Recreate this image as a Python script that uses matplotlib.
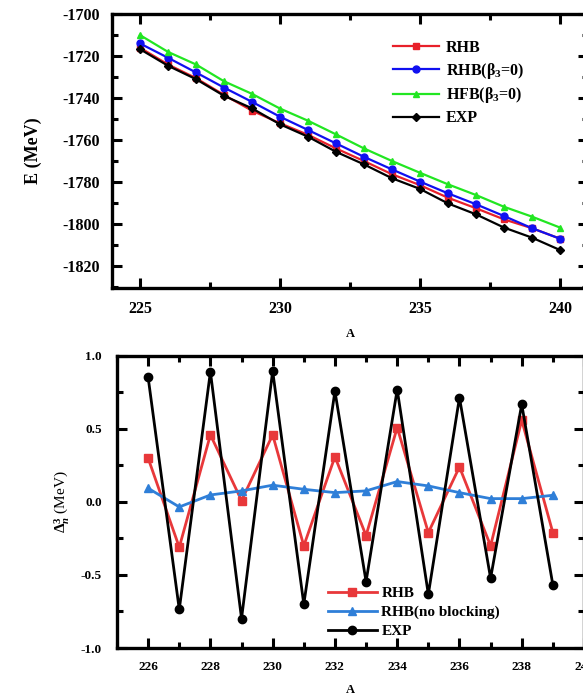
import matplotlib
matplotlib.use("Agg")
import matplotlib.pyplot as plt
from matplotlib.ticker import MultipleLocator

plt.rcParams["font.family"] = "Liberation Serif"
plt.rcParams["font.weight"] = "bold"
plt.rcParams["axes.unicode_minus"] = False
plt.rcParams["mathtext.fontset"] = "custom"
plt.rcParams["mathtext.rm"] = "Liberation Serif"
plt.rcParams["mathtext.bf"] = "Liberation Serif:bold"
plt.rcParams["mathtext.it"] = "Liberation Serif:italic"

# --- top panel: binding energies ---
A_top = [225, 226, 227, 228, 229, 230, 231, 232, 233, 234, 235, 236, 237, 238, 239, 240]
E_rhb = [-1716.0, -1724.0, -1730.5, -1738.5, -1746.0, -1752.0, -1757.5, -1764.0,
         -1770.0, -1776.3, -1781.5, -1787.5, -1792.5, -1797.8, -1802.0, -1807.0]
E_rhb_b0 = [-1714.0, -1720.8, -1727.8, -1735.0, -1741.8, -1748.9, -1755.2, -1761.6,
            -1768.0, -1774.0, -1779.8, -1785.4, -1790.6, -1796.2, -1802.0, -1807.0]
E_hfb_b0 = [-1710.0, -1718.0, -1724.0, -1732.0, -1738.0, -1745.0, -1750.8, -1757.3,
            -1764.0, -1770.0, -1775.6, -1781.1, -1786.2, -1791.8, -1796.5, -1801.7]
E_exp = [-1716.7, -1724.6, -1731.0, -1738.9, -1744.9, -1752.5, -1758.4, -1765.6,
         -1771.6, -1778.2, -1783.3, -1790.2, -1795.4, -1801.7, -1806.5, -1812.4]

# --- bottom panel: three-point odd-even staggering ---
A_bot = [226, 227, 228, 229, 230, 231, 232, 233, 234, 235, 236, 237, 238, 239]
D_rhb = [0.30, -0.31, 0.46, 0.01, 0.46, -0.30, 0.31, -0.23, 0.51, -0.21, 0.24, -0.30, 0.56, -0.21]
D_noblock = [0.094, -0.034, 0.048, 0.076, 0.115, 0.087, 0.064, 0.076, 0.14, 0.11, 0.064, 0.023, 0.023, 0.046]
D_exp = [0.853, -0.736, 0.892, -0.798, 0.897, -0.70, 0.759, -0.545, 0.770, -0.632, 0.715, -0.522, 0.669, -0.568]


def style_axes(ax, labelsize, xpad, ypad):
    for sp in ax.spines.values():
        sp.set_linewidth(2.4)
    ax.tick_params(which="both", direction="in", top=True, right=True,
                   width=2.2, labelsize=labelsize)
    ax.tick_params(which="major", length=7)
    ax.tick_params(which="minor", length=4.5)
    ax.tick_params(axis="x", which="major", pad=xpad)
    ax.tick_params(axis="y", which="major", pad=ypad)


fig = plt.figure(figsize=(5.83, 6.97), dpi=100)

ax1 = fig.add_axes([0.192, 0.5868, 0.8165, 0.393])
ax1.plot(A_top, E_rhb, "-s", color="#e8202a", lw=1.6, ms=4.5, label="RHB")
ax1.plot(A_top, E_rhb_b0, "-o", color="#1010f0", lw=1.6, ms=5, label=r"RHB($\mathbf{\beta}_\mathbf{3}$=0)")
ax1.plot(A_top, E_hfb_b0, "-^", color="#22e622", lw=1.6, ms=5, label=r"HFB($\mathbf{\beta}_\mathbf{3}$=0)")
ax1.plot(A_top, E_exp, "-D", color="black", lw=1.6, ms=4, label="EXP")
ax1.set_xlim(224, 241)
ax1.set_ylim(-1830.5, -1700)
ax1.xaxis.set_major_locator(MultipleLocator(5))
ax1.xaxis.set_minor_locator(MultipleLocator(2.5))
ax1.yaxis.set_major_locator(MultipleLocator(20))
ax1.yaxis.set_minor_locator(MultipleLocator(10))
style_axes(ax1, 11.5, 9, 9)
ax1.set_ylabel("E (MeV)", fontsize=13, fontweight="bold", labelpad=14)
ax1.set_xlabel("A", fontsize=9, fontweight="bold", labelpad=8)
ax1.legend(loc="upper left", bbox_to_anchor=(0.674, 0.943), bbox_transform=fig.transFigure,
           frameon=False, handlelength=2.9, handletextpad=0.4,
           labelspacing=0.3, borderpad=0, borderaxespad=0,
           prop={"weight": "bold", "size": 11.5})

ax2 = fig.add_axes([0.2007, 0.0703, 0.801, 0.419])
ax2.plot(A_bot, D_rhb, "-s", color="#e8383a", lw=2.0, ms=6, label="RHB")
ax2.plot(A_bot, D_noblock, "-^", color="#2f7fd8", lw=2.0, ms=6, label="RHB(no blocking)")
ax2.plot(A_bot, D_exp, "-o", color="black", lw=2.0, ms=6, label="EXP")
ax2.set_xlim(225, 240)
ax2.set_ylim(-1.0, 1.0)
ax2.xaxis.set_major_locator(MultipleLocator(2))
ax2.xaxis.set_minor_locator(MultipleLocator(1))
ax2.yaxis.set_major_locator(MultipleLocator(0.5))
ax2.yaxis.set_minor_locator(MultipleLocator(0.25))
ax2.yaxis.set_major_formatter(plt.FuncFormatter(lambda v, p: f"{v:.1f}"))
style_axes(ax2, 9.5, 9, 11)
ax2.set_ylabel(r"$\Delta^3_n$ (MeV)", fontsize=11, fontweight="normal", labelpad=7)
ax2.set_xlabel("A", fontsize=9, fontweight="bold", labelpad=8)
ax2.legend(loc="upper left", bbox_to_anchor=(0.5626, 0.159), bbox_transform=fig.transFigure,
           frameon=False, handlelength=3.2, handletextpad=0.3,
           labelspacing=0.35, borderpad=0, borderaxespad=0,
           prop={"weight": "bold", "size": 11})

fig.savefig("out.png", dpi=100)
